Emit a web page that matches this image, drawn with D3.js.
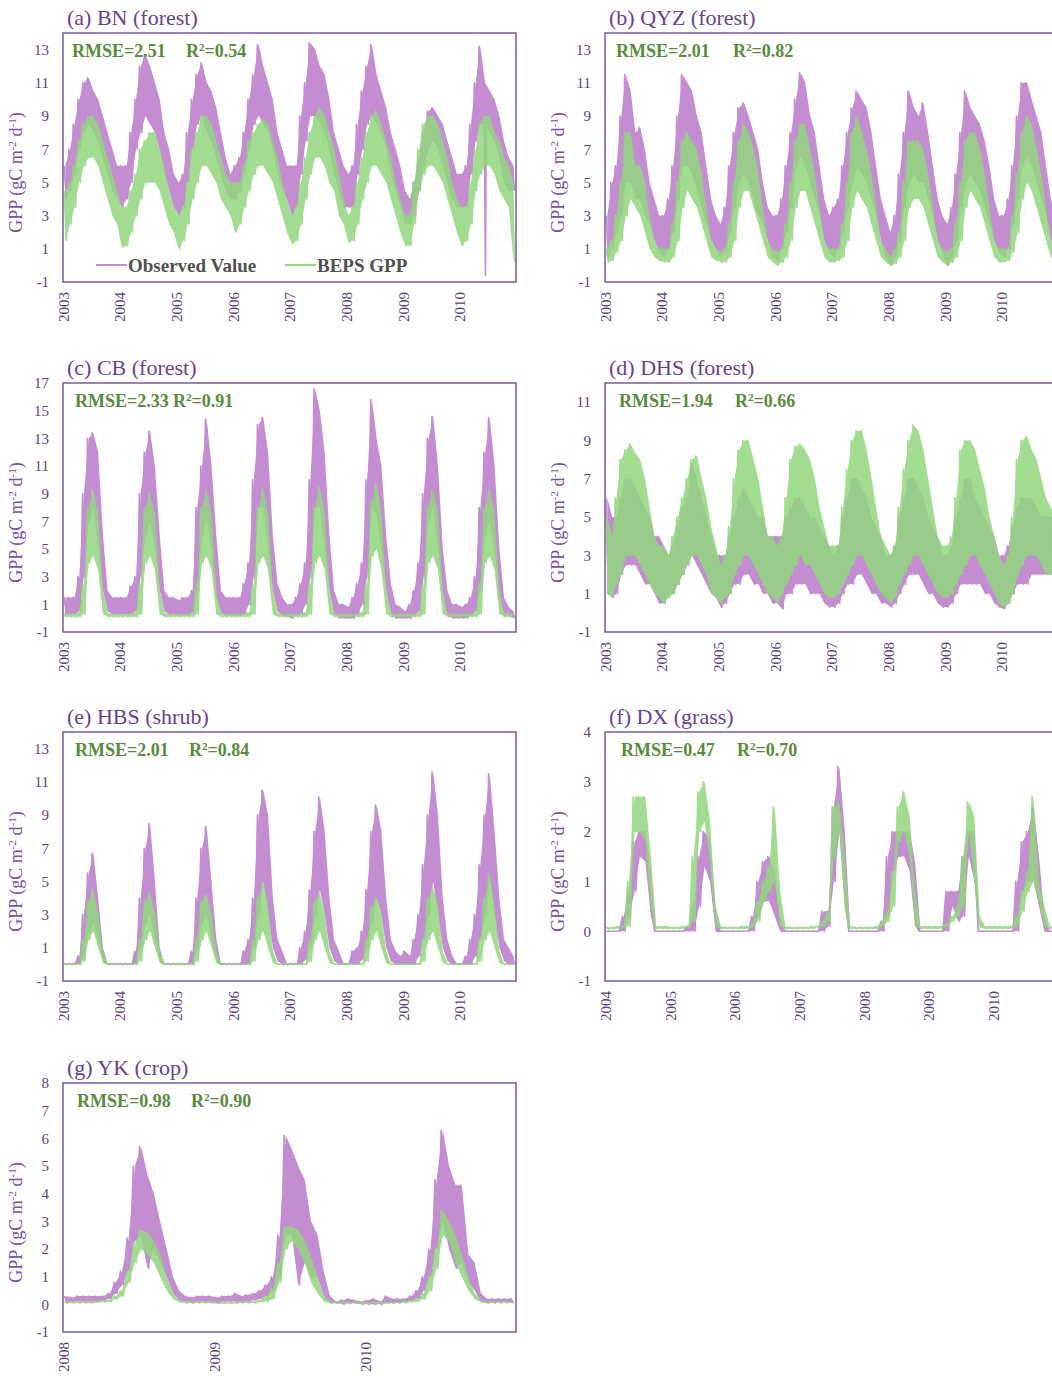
<!DOCTYPE html>
<html>
<head>
<meta charset="utf-8">
<script src="https://cdn.jsdelivr.net/npm/d3@7"></script>
<style>
  body { margin: 0; background: #fff; }
  svg { display: block; font-family: "Liberation Serif", "Times New Roman", serif; }
</style>
</head>
<body>
<svg id="chart" width="1052" height="1376"></svg>
<script>
// Monthly upper / lower values of the daily series (one row per year, Jan..Dec)

// (a) BN 2003-2010
var bnObsHi = [
  6, 7, 8.5, 10, 11, 11.3, 10.5, 10, 9, 8, 7, 6,
  6, 6, 8, 10, 12, 12.7, 12, 11, 10, 8, 7, 5.5,
  5, 5.5, 8, 10, 11.5, 12.2, 11, 10.5, 9.5, 8, 6.5, 5.5,
  6, 6.5, 8, 10, 11.5, 13.3, 12, 11, 10, 8, 7, 6,
  6, 6, 9, 11, 13.4, 13, 12, 11.5, 10, 8, 7, 6,
  5.5, 6, 8.5, 10.5, 12, 13.3, 11.5, 10.5, 9.5, 8, 7, 6,
  4.5, 4, 5, 6.5, 8, 9.3, 9.5, 9, 8.5, 7.5, 6.5, 5.5,
  5.5, 6, 8.5, 11, 13.2, 11, 10.5, 10, 9, 7.5, 6.5, 6
];
var bnObsLo = [
  4, 4.5, 5.5, 7, 8, 8.5, 8, 7.5, 6.5, 5.5, 4.5, 4,
  3.5, 4, 5, 7, 8, 9, 8.5, 8, 7, 5.5, 4.5, 3.5,
  3, 3.5, 5, 7, 8.5, 9, 8, 7.5, 6.5, 5.5, 4.5, 4,
  4, 4.5, 5.5, 7, 8.5, 9, 8.5, 8, 7, 5.5, 4.5, 4,
  3, 3.5, 5.5, 7.5, 9, 9, 8.5, 8, 7, 5.5, 4.5, 3.5,
  3.5, 3.5, 5.5, 7, 8.5, 9, 8.5, 8, 7, 5.5, 4.5, 3.5,
  2.5, 2.5, 3, 4.5, 6, 7, 7.5, 7, 6, 5, 4, 3.5,
  3.5, 3.5, 5.5, 7.5, 8.5, 8.5, 8, 7.5, 6.5, 5, 4.5, 4.5
];
// single deep drop of the observed series in June 2010
var bnObsDrop = [{ year: 2010, month: 5, day: 18, v: -0.6 }];
var bnBepsHi = [
  4.5, 5, 6, 7.5, 8.5, 9, 9, 8.5, 7.5, 6.5, 5.5, 4.5,
  3.5, 3.5, 4.5, 5.5, 7, 7.5, 8, 8, 7, 6, 4.5, 3.5,
  3, 3.5, 5, 7, 8, 9, 9, 8.5, 7.5, 6.5, 5.5, 5,
  5, 5, 6, 7.5, 8, 8.5, 8.8, 8.5, 7.5, 6.5, 5, 4,
  3, 3.5, 5, 6.5, 8, 9, 9.5, 9, 8, 7, 5.5, 4,
  3, 3.5, 5, 6.5, 8, 9, 9.3, 8.5, 7.5, 6.5, 5, 4,
  3, 3, 5, 7, 8.5, 9, 9, 8.5, 7.5, 6.5, 5, 4,
  3.5, 3.5, 5, 7, 8.5, 9, 9, 8, 7.5, 6.5, 6, 5
];
var bnBepsLo = [
  1.5, 2.5, 3.5, 5, 6, 6.5, 6.5, 6, 5, 4, 3, 2.5,
  1.1, 1.2, 2, 3, 4, 5, 5, 5, 4.5, 3.5, 2.5, 2,
  1, 1.5, 2.5, 4, 5, 6, 6, 5.5, 5, 4, 3.5, 3,
  2, 2.5, 3.5, 4.5, 5.5, 6, 6, 5.5, 5, 4, 3, 2,
  1.3, 1.5, 2.5, 4, 5.5, 6.5, 6.5, 6, 5, 4.5, 3, 2.5,
  1.4, 1.5, 2.5, 4, 5, 6, 6, 5.5, 5, 4, 3, 2,
  1.2, 1.2, 2.5, 4.5, 5.5, 6, 6, 5.5, 5, 4, 3, 2,
  1.2, 1.5, 2.5, 4.5, 5.5, 6, 6, 5.5, 4.5, 4, 3.5, 0.2
];

// (b) QYZ 2003-2010
var qyzObsHi = [
  3, 5, 6, 9, 11.5, 10.5, 8, 8.3, 7, 5, 4, 3,
  3, 4, 6, 9, 11.5, 11, 10.5, 9, 8, 6, 4, 3,
  2.5, 3.5, 6, 8, 9.5, 9.8, 9, 8, 7, 5, 3.5, 3,
  3, 4, 6, 8, 10, 11.6, 11, 9, 8, 6, 4, 3,
  3.5, 4, 6, 8, 9.5, 10.5, 10, 9.5, 8, 6, 4, 3,
  2, 3, 5.5, 8, 10.5, 9.5, 9, 9.8, 8, 6, 4, 3,
  2.5, 3.5, 5.5, 8, 10.5, 9.5, 9, 8.5, 7.5, 6, 4, 3,
  3, 4, 6, 9, 11, 11, 10, 9, 8, 6, 4, 3
];
var qyzObsLo = [
  0.5, 1, 2, 3, 5, 5, 4, 4, 3, 2.5, 1.5, 0.8,
  0.5, 1, 2, 4, 6, 6, 5.5, 4.5, 3.5, 2.5, 1.5, 1,
  0.5, 0.8, 2, 3.5, 5, 5.5, 5, 4, 3, 2.5, 1.5, 0.5,
  0.3, 1, 2, 3.5, 6, 6.5, 6, 5, 4, 3, 1.5, 0.8,
  0.5, 1, 2, 3.5, 5, 6, 5.5, 5, 4, 3, 1.5, 0.5,
  0, 0.5, 1.5, 3.5, 5, 5.5, 5, 5, 4, 3, 1.5, 0.8,
  0, 0.5, 1.5, 3.5, 5, 5.5, 5, 4.5, 3.5, 2.5, 1.5, 0.8,
  0.5, 1, 2.5, 4, 6, 6.5, 6, 5, 4, 3, 1.5, 1
];
var qyzBepsHi = [
  1, 1.5, 3, 5, 8, 8, 6, 6, 5, 3, 1.5, 1,
  1, 1, 2.5, 5, 7.5, 8, 7.5, 7, 5.5, 3.5, 1.5, 1,
  0.8, 1, 2.5, 5, 7.5, 8.5, 8, 7, 5.5, 3.5, 1.5, 1,
  0.8, 1, 2.5, 5, 7.5, 8.5, 8.5, 7, 5.5, 3.5, 1.5, 1,
  1, 1, 2.5, 5, 8, 9, 8, 7, 5.5, 3.5, 1.5, 1,
  0.5, 1, 2, 5, 7.5, 7.5, 7.5, 7, 5.5, 3.5, 1.5, 1,
  0.8, 1, 2.5, 5, 7.5, 8, 8, 7, 5.5, 3.5, 1.5, 1,
  1, 1, 3, 5.5, 8, 9, 8.5, 7, 5.5, 3.5, 1.5, 1
];
var qyzBepsLo = [
  0.2, 0.3, 0.8, 1.5, 3, 4, 3.5, 3, 2, 1, 0.5, 0.3,
  0.2, 0.2, 0.5, 1.5, 3.5, 4.5, 4, 3.5, 2.5, 1.5, 0.5, 0.3,
  0.2, 0.2, 0.5, 1.5, 3.5, 4.5, 4.5, 3.5, 2.5, 1.5, 0.5, 0.2,
  0, 0.2, 0.5, 1.5, 3.5, 4.5, 4.5, 3.5, 2.5, 1.5, 0.5, 0.2,
  0.2, 0.3, 0.5, 1.5, 3.5, 4.5, 4, 3.5, 2.5, 1.5, 0.5, 0.2,
  0, 0.1, 0.5, 1.5, 3.5, 4, 4, 3.5, 2.5, 1.5, 0.5, 0.2,
  0, 0.2, 0.5, 1.5, 3.5, 4.5, 4, 3.5, 2.5, 1.5, 0.5, 0.2,
  0.2, 0.3, 0.8, 2, 4, 5, 4.5, 3.5, 2.5, 1.5, 0.5, 0.2
];

// (c) CB 2003-2010
var cbObsHi = [
  1.5, 1.5, 1.5, 3, 9, 13, 13.4, 12, 6, 2, 1.5, 1.5,
  1.5, 1.5, 2.3, 3, 9, 12, 13.5, 11, 6, 2, 1.5, 1.5,
  1.3, 1.5, 1.5, 2, 8, 11, 14.4, 11, 6, 2, 1.5, 1.5,
  1.5, 1.5, 2.5, 4, 10, 14, 14.5, 12, 6, 2.5, 1.5, 1,
  1, 1.5, 2.5, 4, 10, 16.6, 15, 12, 6, 2, 1, 1,
  0.8, 1.5, 2.5, 4, 10, 15.8, 13, 11, 6, 2.5, 1, 0.8,
  0.5, 1, 2, 4, 9, 13, 14.6, 11, 5, 2, 1, 1,
  0.8, 1, 1.5, 3, 8, 12, 14.5, 11, 5, 1.5, 0.8, 0.5
];
var cbObsLo = [
  0.3, 0.3, 0.3, 0.5, 3, 7, 8, 5, 2, 0.5, 0.3, 0.3,
  0.3, 0.3, 0.3, 0.5, 3, 6, 7, 5, 2, 0.5, 0.3, 0.3,
  0.2, 0.2, 0.2, 0.4, 2, 6, 7, 5, 1.5, 0.4, 0.2, 0.2,
  0.2, 0.2, 0.3, 1, 3, 8, 8, 5, 2, 0.5, 0.2, 0.1,
  0, 0.2, 0.3, 1, 3, 8, 8, 5, 2, 0.3, 0, 0,
  0, 0, 0.3, 1, 3, 8, 7.5, 5, 2, 0.3, 0, 0,
  0, 0, 0.2, 0.5, 3, 7, 8, 5, 1.5, 0.2, 0, 0,
  0, 0, 0.2, 0.5, 2, 6, 7, 5, 1.5, 0.2, 0.2, 0
];
var cbBepsHi = [
  0.3, 0.3, 0.3, 0.4, 2.5, 8, 9.3, 7.5, 2, 0.4, 0.3, 0.3,
  0.3, 0.3, 0.3, 0.4, 2.5, 8, 9, 7.5, 2, 0.4, 0.3, 0.3,
  0.3, 0.3, 0.3, 0.4, 2.5, 8, 9.2, 7.5, 2, 0.4, 0.3, 0.3,
  0.3, 0.3, 0.3, 0.4, 2.5, 8, 9.4, 7.5, 2, 0.4, 0.3, 0.3,
  0.3, 0.3, 0.3, 0.4, 2.5, 8, 9.5, 7.5, 2, 0.4, 0.3, 0.3,
  0.3, 0.3, 0.3, 0.4, 2.5, 8.5, 9.8, 7.5, 2, 0.4, 0.3, 0.3,
  0.3, 0.3, 0.3, 0.4, 2.5, 8, 9.3, 7.5, 2, 0.4, 0.3, 0.3,
  0.3, 0.3, 0.3, 0.4, 2.5, 8, 9.3, 7.5, 2, 0.4, 0.3, 0.3
];
var cbBepsLo = [
  0.1, 0.1, 0.1, 0.1, 0.3, 4, 4.5, 3.5, 0.3, 0.1, 0.1, 0.1,
  0.1, 0.1, 0.1, 0.1, 0.3, 4, 4.5, 3.5, 0.3, 0.1, 0.1, 0.1,
  0.1, 0.1, 0.1, 0.1, 0.3, 4, 4.5, 3.5, 0.3, 0.1, 0.1, 0.1,
  0.1, 0.1, 0.1, 0.1, 0.3, 4, 4.5, 3.5, 0.3, 0.1, 0.1, 0.1,
  0.1, 0.1, 0.1, 0.1, 0.3, 4, 4.5, 3.5, 0.3, 0.1, 0.1, 0.1,
  0.1, 0.1, 0.1, 0.1, 0.3, 4.5, 5, 3.5, 0.3, 0.1, 0.1, 0.1,
  0.1, 0.1, 0.1, 0.1, 0.3, 4, 4.5, 3.5, 0.3, 0.1, 0.1, 0.1,
  0.1, 0.1, 0.1, 0.1, 0.3, 4, 4.5, 3.5, 0.3, 0.1, 0.1, 0.1
];

// (d) DHS 2003-2010
var dhsObsHi = [
  6, 5, 5, 6, 7, 7, 6.5, 6, 5.5, 5, 4, 4,
  3.5, 3, 3.5, 4.5, 5.5, 6, 7.8, 7, 6, 5, 4, 3,
  3, 3, 4, 5, 6, 6.5, 6, 5.5, 5, 5, 4, 4,
  4, 4, 5, 5.5, 6, 6, 5.5, 5, 5, 4.5, 4, 3.5,
  3, 3.5, 5, 6, 7, 7, 6.5, 6, 5, 4.5, 4, 3,
  3, 3.5, 5, 6, 7, 7, 6.5, 6, 5, 4.5, 4, 3,
  3, 3.5, 5, 6, 7, 7, 6, 5.5, 5, 4.5, 4, 3,
  3, 3.5, 4.5, 5.5, 6, 6, 6, 5.5, 5, 5, 5, 5
];
var dhsObsLo = [
  1, 0.8, 1, 2, 2.5, 2.5, 2.5, 2, 1.5, 1.5, 1, 0.5,
  0.5, 1, 1, 1.5, 2, 2.5, 3, 2.5, 2, 1.5, 1, 0.8,
  0.3, 0.5, 1, 1.5, 1.5, 2, 2, 1.5, 1.5, 1, 1, 0.5,
  0.5, 0.2, 1, 1, 1.5, 1.5, 1.5, 1, 1, 1, 0.5, 0.3,
  0.3, 0.5, 1, 1.5, 1.5, 2, 2, 1.5, 1, 1, 0.5, 0.5,
  0.3, 0.5, 1, 1.5, 2, 2, 2, 1.5, 1, 1, 0.5, 0.3,
  0.3, 0.5, 1, 1.5, 1.5, 1.5, 1.5, 1.5, 1, 1, 0.5, 0.3,
  0.2, 0.5, 1, 1.5, 1.5, 1.5, 2, 2, 2, 2, 2, 2
];
var dhsBepsHi = [
  5, 4, 6, 8, 8.5, 8.8, 8.3, 8, 7, 5.5, 4, 3.5,
  3.5, 3, 4, 5, 6, 7, 8, 8.2, 7, 6, 4.5, 3.5,
  2.5, 3, 4.5, 7, 8.5, 9, 9, 8, 7, 5.5, 4, 4,
  3.5, 4, 6, 8, 8.7, 8.8, 8.5, 8, 7, 5.5, 4.5, 3.5,
  3.5, 3.5, 5.5, 7.5, 9, 9.5, 9.5, 8.5, 7, 5.5, 4, 3.5,
  3, 3.5, 5.5, 7.5, 9, 9.8, 9.5, 8.5, 7, 5.5, 4, 3.5,
  3.5, 4, 6, 8.5, 9, 9, 8.5, 7.5, 6.5, 5, 4, 3,
  2.5, 3, 5, 8, 9, 9.2, 8.5, 8, 7, 6, 5.5, 5
];
var dhsBepsLo = [
  1, 0.8, 1.5, 2, 3, 3, 3, 2.5, 2, 1.5, 1, 0.8,
  0.5, 0.8, 1, 1.5, 2, 2.5, 3, 3, 2.5, 2, 1, 0.8,
  0.5, 0.8, 1, 2, 2.5, 3, 3, 2.5, 2, 1.5, 1, 0.8,
  0.5, 1, 1.5, 2, 2.5, 3, 2.5, 2.5, 2, 1.5, 1, 0.8,
  0.8, 1, 1.5, 2, 2.5, 3, 3, 2.5, 2, 1.5, 1, 0.8,
  0.5, 0.8, 1.5, 2, 2.5, 3, 3, 2.5, 2, 1.5, 1, 0.8,
  0.8, 1, 1.5, 2, 2.5, 3, 3, 2.5, 2, 1.5, 1, 0.5,
  0.3, 0.5, 1, 2, 2.5, 3, 3, 3, 2.5, 2, 2, 2
];

// (e) HBS 2003-2010
var hbsObsHi = [
  0.05, 0.05, 0.05, 0.5, 3, 5.5, 6.7, 4, 1, 0.05, 0.05, 0.05,
  0.05, 0.05, 0.05, 0.8, 4, 7, 8.5, 5, 1, 0.05, 0.05, 0.05,
  0.05, 0.05, 0.05, 0.8, 4, 7, 8.3, 5, 1.5, 0.05, 0.05, 0.05,
  0.05, 0.05, 0.8, 1.5, 4, 9, 10.5, 9, 4, 1.5, 0.8, 0.05,
  0.05, 0.05, 1, 2, 4.5, 8, 10.1, 8, 4, 1.5, 0.8, 0.05,
  0.05, 0.8, 1, 2, 4.5, 8, 9.6, 8, 4, 1.5, 0.8, 0.5,
  0.8, 0.5, 1.5, 3, 6, 9, 11.6, 9, 4, 1.5, 0.5, 0.05,
  0.05, 0.5, 1.5, 3, 6, 9, 11.5, 8, 4, 1.5, 1, 0.5
];
var hbsObsLo = [
  0, 0, 0, 0, 0.5, 2, 2.5, 1.5, 0.2, 0, 0, 0,
  0, 0, 0, 0, 1, 2.5, 3, 1.5, 0.2, 0, 0, 0,
  0, 0, 0, 0, 1, 2.5, 3, 1.5, 0.2, 0, 0, 0,
  0, 0, 0, 0, 1, 3, 5, 3, 1, 0.2, 0, 0,
  0, 0, 0, 0.3, 1, 3, 4.5, 3, 1, 0.2, 0, 0,
  0, 0, 0, 0.3, 1, 2.5, 4, 3, 1, 0.2, 0, 0,
  0, 0, 0, 0.5, 1.5, 3, 5, 3, 1, 0.2, 0, 0,
  0, 0, 0, 0.5, 1.5, 3, 5, 3, 1, 0.2, 0, 0
];
var hbsBepsHi = [
  0.02, 0.02, 0.02, 0.05, 1.5, 3.8, 4.5, 3, 0.8, 0.05, 0.02, 0.02,
  0.02, 0.02, 0.02, 0.05, 1.5, 3.8, 4.3, 3, 0.8, 0.05, 0.02, 0.02,
  0.02, 0.02, 0.02, 0.05, 1.5, 3.8, 4.2, 3, 0.8, 0.05, 0.02, 0.02,
  0.02, 0.02, 0.02, 0.05, 1.5, 4, 5, 3.5, 0.8, 0.05, 0.02, 0.02,
  0.02, 0.02, 0.02, 0.05, 1.5, 3.8, 4.3, 3, 0.8, 0.05, 0.02, 0.02,
  0.02, 0.02, 0.02, 0.05, 1.5, 3.5, 4, 3, 0.8, 0.05, 0.02, 0.02,
  0.02, 0.02, 0.02, 0.05, 1.5, 4, 4.6, 3.5, 0.8, 0.05, 0.02, 0.02,
  0.02, 0.02, 0.02, 0.05, 1.5, 4, 5.5, 3.5, 0.8, 0.05, 0.02, 0.02
];
var hbsBepsLo = [
  0, 0, 0, 0, 0.2, 1.5, 2, 1, 0.1, 0, 0, 0,
  0, 0, 0, 0, 0.2, 1.5, 2, 1, 0.1, 0, 0, 0,
  0, 0, 0, 0, 0.2, 1.5, 2, 1, 0.1, 0, 0, 0,
  0, 0, 0, 0, 0.2, 1.5, 2, 1, 0.1, 0, 0, 0,
  0, 0, 0, 0, 0.2, 1.5, 2, 1, 0.1, 0, 0, 0,
  0, 0, 0, 0, 0.2, 1.5, 2, 1, 0.1, 0, 0, 0,
  0, 0, 0, 0, 0.2, 1.5, 2, 1, 0.1, 0, 0, 0,
  0, 0, 0, 0, 0.2, 1.5, 2, 1, 0.1, 0, 0, 0
];

// (f) DX 2004-2010
var dxObsHi = [
  0, 0, 0, 0.3, 0.8, 1.8, 2, 2, 1.2, 0, 0, 0,
  0, 0, 0, 0.1, 0.5, 1.5, 2, 1.8, 0.5, 0, 0, 0,
  0, 0, 0, 0.3, 1, 1.4, 1.5, 1.2, 0.3, 0, 0, 0,
  0, 0, 0, 0, 0.4, 0.4, 2.5, 3.3, 2, 0, 0, 0,
  0, 0, 0, 0.2, 1.5, 2, 2, 2, 2, 1.4, 0, 0,
  0, 0, 0, 0.8, 0.8, 0.8, 1.5, 2, 2, 0, 0, 0,
  0, 0, 0, 0, 1, 1.8, 2, 2.5, 1.5, 0.3, 0, 0
];
var dxObsLo = [
  0, 0, 0, 0, 0.3, 0.8, 1.5, 1.4, 0.3, 0, 0, 0,
  0, 0, 0, 0, 0, 0.5, 1.3, 1, 0, 0, 0, 0,
  0, 0, 0, 0, 0.3, 0.6, 0.6, 0.3, 0, 0, 0, 0,
  0, 0, 0, 0, 0, 0.1, 1, 2, 0.5, 0, 0, 0,
  0, 0, 0, 0, 0.3, 1.2, 1.5, 1.5, 1.2, 0.1, 0, 0,
  0, 0, 0, 0, 0.5, 0.2, 0.3, 1.5, 1, 0, 0, 0,
  0, 0, 0, 0, 0, 0.8, 1, 1, 0.5, 0, 0, 0
];
var dxBepsHi = [
  0.08, 0.08, 0.1, 0.1, 1, 2.7, 2.7, 2.7, 1.5, 0.1, 0.1, 0.1,
  0.08, 0.08, 0.1, 0.1, 1.5, 2.8, 3, 2.2, 0.5, 0.1, 0.08, 0.08,
  0.08, 0.1, 0.1, 0.15, 0.6, 1, 1.3, 2.5, 0.8, 0.1, 0.08, 0.08,
  0.08, 0.08, 0.1, 0.1, 0.2, 0.4, 2.5, 2.6, 1.5, 0.1, 0.08, 0.08,
  0.08, 0.08, 0.1, 0.2, 0.4, 1.2, 2.5, 2.8, 2.3, 0.8, 0.1, 0.1,
  0.1, 0.1, 0.1, 0.15, 0.3, 0.5, 1.5, 2.6, 2.3, 0.3, 0.1, 0.1,
  0.1, 0.1, 0.1, 0.1, 0.3, 0.8, 1.2, 2.7, 1, 0.5, 0.1, 0.1
];
var dxBepsLo = [
  0.04, 0.05, 0.05, 0.08, 0.1, 2, 2, 1.8, 0.5, 0.05, 0.05, 0.05,
  0.05, 0.05, 0.05, 0.08, 0.2, 2, 2.2, 1.4, 0.1, 0.05, 0.05, 0.05,
  0.05, 0.05, 0.05, 0.1, 0.2, 0.6, 0.8, 1, 0.1, 0.05, 0.05, 0.05,
  0.05, 0.05, 0.05, 0.08, 0.1, 0.2, 1.5, 2, 0.4, 0.05, 0.05, 0.05,
  0.05, 0.05, 0.05, 0.1, 0.2, 0.5, 1.8, 2, 1.5, 0.1, 0.05, 0.05,
  0.05, 0.05, 0.05, 0.1, 0.2, 0.3, 0.5, 2, 1, 0.08, 0.05, 0.05,
  0.05, 0.05, 0.05, 0.05, 0.1, 0.4, 0.8, 1, 0.6, 0.1, 0.05, 0.05
];

// (g) YK 2008-2010, two values per month (first / second half)
var ykObsHi = [
  0.3, 0.25, 0.3, 0.3, 0.3, 0.3, 0.3, 0.4, 0.8, 1.2, 2.4, 5, 5.7, 4.7, 4, 3, 2, 1, 0.5, 0.3, 0.25, 0.3, 0.3, 0.3,
  0.25, 0.3, 0.3, 0.4, 0.3, 0.35, 0.4, 0.5, 0.7, 1, 2.5, 6.1, 5.6, 5, 4.5, 3, 2.5, 1.2, 0.3, 0.1, 0.15, 0.2, 0.15, 0.1,
  0.15, 0.2, 0.1, 0.3, 0.2, 0.2, 0.2, 0.3, 0.5, 1, 2, 4.5, 6.3, 5, 4.3, 4.3, 1.8, 1.5, 0.4, 0.2, 0.2, 0.2, 0.2, 0.2
];
var ykObsLo = [
  0.05, 0.1, 0.1, 0.1, 0.1, 0.1, 0.15, 0.2, 0.4, 0.7, 1.2, 2.3, 2.5, 1.3, 2, 1.5, 1, 0.4, 0.15, 0.1, 0.05, 0.1, 0.1, 0.1,
  0.05, 0.1, 0.1, 0.1, 0.1, 0.1, 0.15, 0.2, 0.3, 0.5, 1, 2.5, 2.5, 0.7, 1.5, 1, 1, 0.3, 0.05, 0.05, 0, 0.05, 0.05, 0,
  0, 0, 0, 0.05, 0.05, 0.05, 0.1, 0.15, 0.2, 0.5, 1, 2, 3, 2, 1.3, 1.5, 0.8, 0.5, 0.1, 0.05, 0.05, 0.1, 0.1, 0.05
];
var ykBepsHi = [
  0.1, 0.1, 0.1, 0.1, 0.1, 0.1, 0.15, 0.15, 0.3, 0.5, 1.2, 2.2, 2.7, 2.6, 2.3, 1.8, 1, 0.4, 0.15, 0.1, 0.1, 0.1, 0.1, 0.1,
  0.08, 0.08, 0.08, 0.08, 0.1, 0.1, 0.1, 0.15, 0.3, 0.6, 1.5, 2.8, 2.8, 2.7, 2.3, 1.7, 1, 0.3, 0.1, 0.08, 0.08, 0.08, 0.08, 0.08,
  0.08, 0.08, 0.08, 0.08, 0.08, 0.1, 0.1, 0.15, 0.2, 0.4, 1, 2, 3.4, 3, 2.5, 1.8, 1, 0.4, 0.15, 0.1, 0.1, 0.1, 0.1, 0.1
];
var ykBepsLo = [
  0.05, 0.05, 0.05, 0.05, 0.05, 0.08, 0.08, 0.1, 0.2, 0.3, 0.8, 1.5, 2, 1.8, 1.5, 1, 0.5, 0.2, 0.08, 0.05, 0.05, 0.05, 0.05, 0.05,
  0.03, 0.03, 0.03, 0.04, 0.05, 0.05, 0.05, 0.08, 0.1, 0.2, 0.8, 2, 2.3, 2, 1.5, 0.8, 0.4, 0.1, 0.05, 0.03, 0.03, 0.03, 0.03, 0.03,
  0.03, 0.03, 0.03, 0.03, 0.04, 0.05, 0.05, 0.08, 0.1, 0.2, 0.5, 1.3, 2.5, 2.3, 1.5, 1, 0.5, 0.2, 0.08, 0.05, 0.05, 0.05, 0.05, 0.05
];

var titles = ["(a) BN (forest)", "(b) QYZ (forest)", "(c) CB (forest)", "(d) DHS (forest)",
              "(e) HBS (shrub)", "(f) DX (grass)", "(g) YK (crop)"];
var rmse = ["2.51", "2.01", "2.33", "1.94", "2.01", "0.47", "0.98"];
var r2 = ["0.54", "0.82", "0.91", "0.66", "0.84", "0.70", "0.90"];

var svg = d3.select("#chart");
var obsColor = "#c48dd1", bepsColor = "#92d67e";
var frameColor = "#7d55a6", tickColor = "#5e4282", titleColor = "#6a3f94", statColor = "#588c3c";

// x0 / y0 is the top-left of the plot box
var panels = [
  { x0: 63,  y0: 33,  start: 2003, end: 2011, yMax: 14, step: 2, obsHi: bnObsHi,  obsLo: bnObsLo,  bepsHi: bnBepsHi,  bepsLo: bnBepsLo,  per: 1, statX: [72, 186], legend: true, drops: bnObsDrop },
  { x0: 605, y0: 33,  start: 2003, end: 2011, yMax: 14, step: 2, obsHi: qyzObsHi, obsLo: qyzObsLo, bepsHi: qyzBepsHi, bepsLo: qyzBepsLo, per: 1, statX: [616, 733] },
  { x0: 63,  y0: 383, start: 2003, end: 2011, yMax: 17, step: 2, obsHi: cbObsHi,  obsLo: cbObsLo,  bepsHi: cbBepsHi,  bepsLo: cbBepsLo,  per: 1, statX: [75, 173] },
  { x0: 605, y0: 383, start: 2003, end: 2011, yMax: 12, step: 2, obsHi: dhsObsHi, obsLo: dhsObsLo, bepsHi: dhsBepsHi, bepsLo: dhsBepsLo, per: 1, statX: [619, 735] },
  { x0: 63,  y0: 732, start: 2003, end: 2011, yMax: 14, step: 2, obsHi: hbsObsHi, obsLo: hbsObsLo, bepsHi: hbsBepsHi, bepsLo: hbsBepsLo, per: 1, statX: [75, 189] },
  { x0: 605, y0: 732, start: 2004, end: 2011, yMax: 4,  step: 1, obsHi: dxObsHi,  obsLo: dxObsLo,  bepsHi: dxBepsHi,  bepsLo: dxBepsLo,  per: 1, statX: [621, 737] },
  { x0: 63,  y0: 1083, start: 2008, end: 2011, yMax: 8, step: 1, obsHi: ykObsHi,  obsLo: ykObsLo,  bepsHi: ykBepsHi,  bepsLo: ykBepsLo,  per: 2, statX: [77, 191] }
];
var plotW = 453, plotH = 249;

function periodStart(startYear, per, i) {
  return d3.timeMonth.offset(new Date(startYear, 0, 1), Math.floor(i / per));
}

// band between the lower and upper value of each period
function toBand(hi, lo, startYear, per) {
  return hi.map(function(h, i) {
    var mid = per === 1 ? 15 : (i % per === 0 ? 7 : 22);
    return { date: d3.timeDay.offset(periodStart(startYear, per, i), mid), hi: h, lo: lo[i] };
  });
}

// jagged line: hi value early in each period, lo value late in it
function toPoints(hi, lo, startYear, per) {
  var days = per === 1 ? [[7, 22]] : [[3, 10], [18, 25]];
  var pts = [];
  hi.forEach(function(h, i) {
    var base = periodStart(startYear, per, i), d = days[i % per];
    pts.push({ date: d3.timeDay.offset(base, d[0]), v: h });
    pts.push({ date: d3.timeDay.offset(base, d[1]), v: lo[i] });
  });
  return pts;
}

function superText(sel, parts, shift) {
  parts.forEach(function(p) {
    var t = sel.append("tspan").text(p[0]);
    if (p[1] === "up") t.attr("dy", -shift).attr("font-size", "0.62em");
    if (p[1] === "down") t.attr("dy", shift);
  });
}

panels.forEach(function(p, i) {
  var g = svg.append("g").attr("transform", "translate(" + p.x0 + "," + p.y0 + ")");
  var x = d3.scaleTime().domain([new Date(p.start, 0, 1), new Date(p.end, 0, 1)]).range([0, plotW]);
  var y = d3.scaleLinear().domain([-1, p.yMax]).range([plotH, 0]);

  g.append("clipPath").attr("id", "clip" + i)
    .append("rect").attr("width", plotW).attr("height", plotH);

  var line = d3.line().x(function(d) { return x(d.date); }).y(function(d) { return y(d.v); });
  var area = d3.area().x(function(d) { return x(d.date); })
    .y0(function(d) { return y(d.lo); }).y1(function(d) { return y(d.hi); });
  var body = g.append("g").attr("clip-path", "url(#clip" + i + ")");

  [[p.obsHi, p.obsLo, obsColor, 1], [p.bepsHi, p.bepsLo, bepsColor, 0.85]].forEach(function(s, k) {
    var sg = body.append("g").attr("opacity", s[3]);
    sg.append("path").datum(toBand(s[0], s[1], p.start, p.per))
      .attr("d", area).attr("fill", s[2]);
    var pts = toPoints(s[0], s[1], p.start, p.per);
    if (k === 0 && p.drops) {
      p.drops.forEach(function(dr) {
        pts.push({ date: new Date(dr.year, dr.month, dr.day), v: dr.v });
      });
      pts.sort(function(a, b) { return a.date - b.date; });
    }
    sg.append("path").datum(pts)
      .attr("d", line).attr("fill", "none")
      .attr("stroke", s[2]).attr("stroke-width", 1.6).attr("stroke-linejoin", "round");
  });

  g.append("rect").attr("width", plotW).attr("height", plotH)
    .attr("fill", "none").attr("stroke", frameColor).attr("stroke-width", 1.5);

  // y axis
  var yAxis = g.append("g")
    .call(d3.axisLeft(y).tickValues(d3.range(-1, p.yMax + 0.01, p.step))
      .tickFormat(function(d) { return String(d); }).tickSize(0).tickPadding(14));
  yAxis.select(".domain").remove();
  yAxis.selectAll("text").attr("fill", tickColor)
    .attr("font-family", "Liberation Serif, serif").attr("font-size", 15);

  // x axis with vertical year labels
  var xAxis = g.append("g").attr("transform", "translate(0," + plotH + ")")
    .call(d3.axisBottom(x).ticks(d3.timeYear.every(1)).tickFormat(d3.timeFormat("%Y")).tickSize(0));
  xAxis.select(".domain").remove();
  xAxis.selectAll(".tick").filter(function(d) { return d.getFullYear() >= p.end; }).remove();
  xAxis.selectAll("text")
    .attr("fill", tickColor).attr("font-family", "Liberation Serif, serif").attr("font-size", 15)
    .attr("transform", "rotate(-90)").attr("text-anchor", "end")
    .attr("x", -10).attr("y", 0).attr("dy", "0.35em");

  // title
  svg.append("text").attr("x", p.x0 + 4).attr("y", p.y0 - 8)
    .attr("fill", titleColor).attr("font-size", 22).text(titles[i]);

  // y label
  var yl = svg.append("text")
    .attr("transform", "translate(" + (p.x0 - 41) + "," + (p.y0 + plotH / 2 + 15) + ") rotate(-90)")
    .attr("text-anchor", "middle").attr("fill", "#7a50a6").attr("font-size", 18);
  superText(yl, [["GPP (gC m"], ["-2", "up"], [" d", "down"], ["-1", "up"], [")", "down"]], 6);

  // statistics
  var st = svg.append("g").attr("fill", statColor).attr("font-weight", "bold").attr("font-size", 18);
  st.append("text").attr("x", p.statX[0]).attr("y", p.y0 + 24).text("RMSE=" + rmse[i]);
  var r = st.append("text").attr("x", p.statX[1]).attr("y", p.y0 + 24);
  superText(r, [["R"], ["2", "up"], ["=" + r2[i], "down"]], 6);

  if (p.legend) {
    var lg = svg.append("g").attr("font-weight", "bold").attr("font-size", 19).attr("fill", "#505050");
    var ly = p.y0 + 232;
    [["Observed Value", obsColor, 96], ["BEPS GPP", bepsColor, 285]].forEach(function(e) {
      lg.append("line").attr("x1", e[2]).attr("x2", e[2] + 31).attr("y1", ly).attr("y2", ly)
        .attr("stroke", e[1]).attr("stroke-width", 2);
      lg.append("text").attr("x", e[2] + 32).attr("y", ly).attr("dy", "0.35em").text(e[0]);
    });
  }
});
</script>
</body>
</html>
